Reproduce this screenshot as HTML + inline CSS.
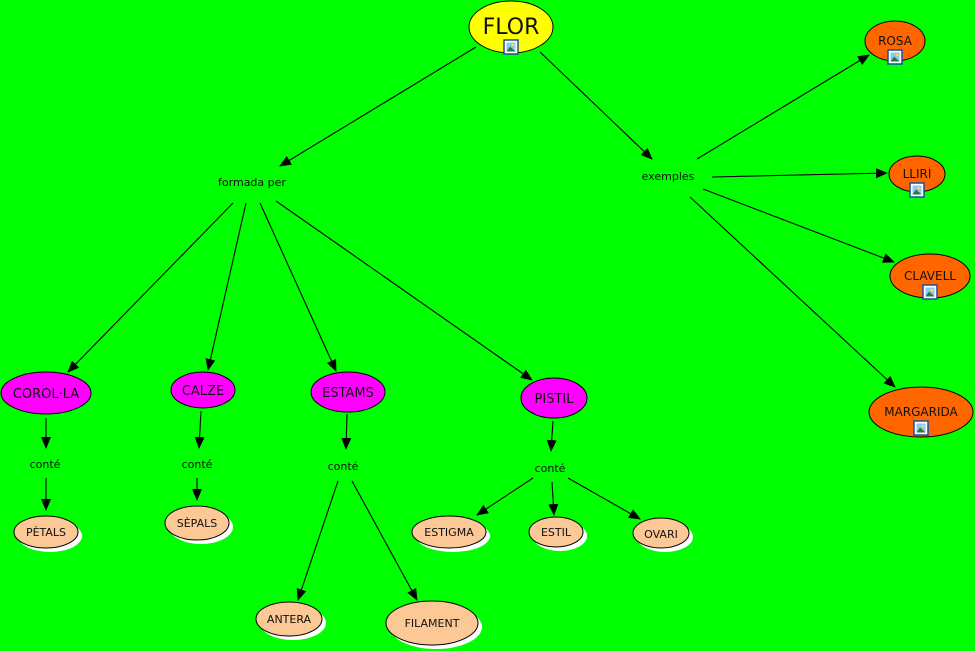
<!DOCTYPE html>
<html><head><meta charset="utf-8"><style>
html,body{margin:0;padding:0;background:#00ff00;}
svg{display:block;}
text{font-family:"DejaVu Sans","Liberation Sans",sans-serif;fill:#111;text-anchor:middle;}
</style></head><body>
<svg width="975" height="651" viewBox="0 0 975 651" xmlns="http://www.w3.org/2000/svg">
<defs>
<marker id="a" markerWidth="12" markerHeight="12" refX="11" refY="5" orient="auto" markerUnits="userSpaceOnUse">
<path d="M0,0 L12,5 L0,10 z" fill="#000"/>
</marker>
<g id="ic"><rect x="-7" y="-7" width="14" height="14" fill="#fff" stroke="#1a4fa0" stroke-width="1.5"/><rect x="-4.5" y="-4.5" width="9" height="9" fill="#8cc8f0"/><path d="M-4.5,4.5 L-1,-0.5 L4.5,4.5z" fill="#2a7a3a"/><circle cx="2" cy="-2" r="1.3" fill="#ffe040"/></g>
</defs>
<rect width="975" height="651" fill="#00ff00"/>
<g stroke="#000" stroke-width="1.1" fill="none" marker-end="url(#a)">
<line x1="476" y1="47" x2="280" y2="166"/>
<line x1="540" y1="52" x2="652" y2="159"/>
<line x1="697" y1="159" x2="869" y2="55"/>
<line x1="712" y1="177" x2="887" y2="173"/>
<line x1="703" y1="189" x2="894" y2="262"/>
<line x1="690" y1="197" x2="895" y2="387"/>
<line x1="233" y1="203" x2="68" y2="372"/>
<line x1="246" y1="203" x2="208" y2="370"/>
<line x1="260" y1="203" x2="336" y2="371"/>
<line x1="276" y1="201" x2="532" y2="380"/>
<line x1="46" y1="418" x2="46" y2="448"/>
<line x1="46" y1="478" x2="46" y2="510"/>
<line x1="201" y1="411" x2="199" y2="448"/>
<line x1="197" y1="478" x2="197" y2="500"/>
<line x1="347" y1="414" x2="346" y2="449"/>
<line x1="338" y1="481" x2="298" y2="600"/>
<line x1="352" y1="481" x2="417" y2="600"/>
<line x1="553" y1="421" x2="551" y2="451"/>
<line x1="533" y1="478" x2="477" y2="515"/>
<line x1="552" y1="482" x2="554" y2="515"/>
<line x1="568" y1="478" x2="640" y2="519"/>
</g>
<g stroke="#000" stroke-width="1">
<ellipse cx="511" cy="27" rx="42" ry="26" fill="#ffff00"/>
<ellipse cx="895" cy="41" rx="30" ry="20" fill="#ff6600"/>
<ellipse cx="917" cy="174" rx="28" ry="18" fill="#ff6600"/>
<ellipse cx="930" cy="276" rx="40" ry="22" fill="#ff6600"/>
<ellipse cx="921" cy="412" rx="52" ry="25" fill="#ff6600"/>
<ellipse cx="46" cy="393" rx="45" ry="21" fill="#ff00ff"/>
<ellipse cx="203" cy="390" rx="32" ry="18" fill="#ff00ff"/>
<ellipse cx="348" cy="392" rx="37" ry="20" fill="#ff00ff"/>
<ellipse cx="554" cy="398" rx="33" ry="20" fill="#ff00ff"/>
</g>
<g fill="#fff">
<ellipse cx="50" cy="536" rx="32" ry="16"/>
<ellipse cx="201" cy="527" rx="32" ry="17"/>
<ellipse cx="293" cy="623" rx="33" ry="17"/>
<ellipse cx="436" cy="627" rx="46" ry="22"/>
<ellipse cx="453" cy="536" rx="37" ry="16"/>
<ellipse cx="560" cy="536" rx="27" ry="15"/>
<ellipse cx="665" cy="537" rx="28" ry="15"/>
</g>
<g stroke="#000" stroke-width="1" fill="#fbc896">
<ellipse cx="46" cy="532" rx="32" ry="16"/>
<ellipse cx="197" cy="523" rx="32" ry="17"/>
<ellipse cx="289" cy="619" rx="33" ry="17"/>
<ellipse cx="432" cy="623" rx="46" ry="22"/>
<ellipse cx="449" cy="532" rx="37" ry="16"/>
<ellipse cx="556" cy="532" rx="27" ry="15"/>
<ellipse cx="661" cy="533" rx="28" ry="15"/>
</g>
<text x="511" y="34" font-size="22">FLOR</text>
<use href="#ic" x="511" y="47"/>
<text x="895" y="45" font-size="12">ROSA</text><use href="#ic" x="895" y="57"/>
<text x="917" y="178" font-size="12">LLIRI</text><use href="#ic" x="917" y="190"/>
<text x="930" y="280" font-size="12">CLAVELL</text><use href="#ic" x="930" y="292"/>
<text x="921" y="416" font-size="12">MARGARIDA</text><use href="#ic" x="921" y="428"/>
<text x="46" y="398" font-size="13">COROL·LA</text>
<text x="203" y="395" font-size="13">CALZE</text>
<text x="348" y="397" font-size="13">ESTAMS</text>
<text x="554" y="403" font-size="13">PISTIL</text>
<g font-size="11">
<text x="46" y="536">PÈTALS</text>
<text x="197" y="527">SÈPALS</text>
<text x="289" y="623">ANTERA</text>
<text x="432" y="627">FILAMENT</text>
<text x="449" y="536">ESTIGMA</text>
<text x="556" y="536">ESTIL</text>
<text x="661" y="538">OVARI</text>
<text x="252" y="186">formada per</text>
<text x="668" y="180">exemples</text>
<text x="45" y="468">conté</text>
<text x="197" y="468">conté</text>
<text x="343" y="470">conté</text>
<text x="550" y="472">conté</text>
</g>
</svg>
</body></html>
